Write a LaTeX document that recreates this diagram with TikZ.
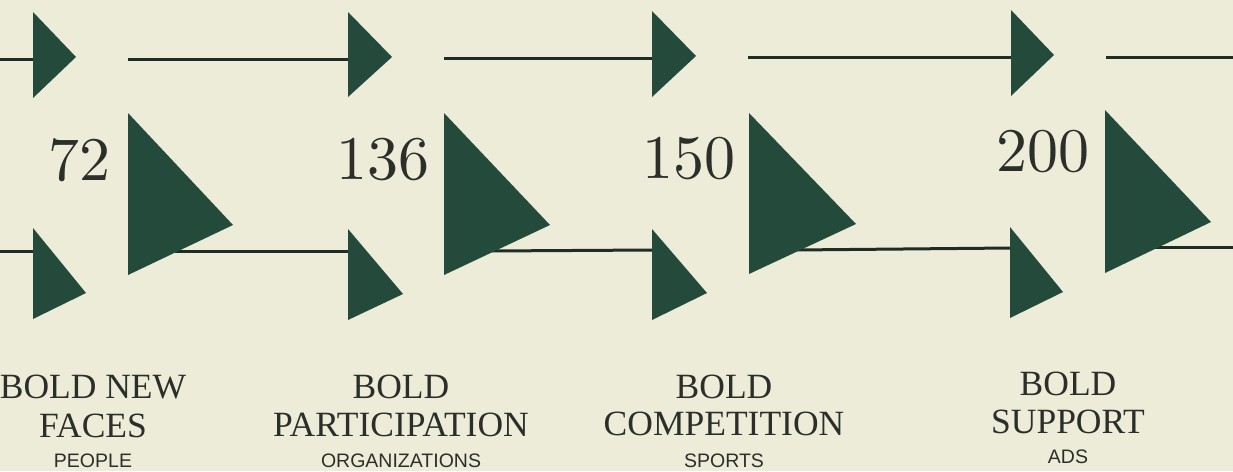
\documentclass[tikz,border=0pt]{standalone}
\usepackage{fontspec}
\newfontfamily\lserif{Liberation Serif}
\newfontfamily\lsans{Liberation Sans}
\newfontfamily\numfont{lmroman10-regular}[Extension=.otf]
\definecolor{bg}{HTML}{EDECD8}
\definecolor{tri}{HTML}{244A3B}
\definecolor{ln}{HTML}{1F2D27}
\definecolor{txt}{HTML}{2C2E2A}
\tikzset{
  tribox/.style={fill=tri, draw=none},
  flowline/.style={draw=ln, line width=3pt},
  numtext/.style={font=\numfont\fontsize{62}{66}\selectfont, text=txt, inner sep=0pt, anchor=base east},
  headtext/.style={font=\lserif\fontsize{35.5}{38}\selectfont, text=txt, inner sep=0pt, anchor=base},
  subtext/.style={font=\lsans\fontsize{19.5}{21}\selectfont, text=txt, inner sep=0pt, anchor=base},
}
\begin{document}
\begin{tikzpicture}[x=1pt,y=-1pt]
\fill[bg] (0,0) rectangle (1233,471);
\useasboundingbox (0,0) rectangle (1233,471);

% coordinates
\coordinate (s0) at (0,59);
\coordinate (b0) at (0,251);
% top small triangle bases (at line height)
\coordinate (ts1) at (34,59);  \coordinate (ts2) at (349,59);
\coordinate (ts3) at (653,58); \coordinate (ts4) at (1012,57);
% big triangle left edges at top-line height
\coordinate (bt1) at (128,59); \coordinate (bt2) at (444,58);
\coordinate (bt3) at (748,57); \coordinate (bt4) at (1106,57);
\coordinate (e0) at (1233,57);
% bottom line
\coordinate (bs1) at (34,251);  \coordinate (bs2) at (349,251);
\coordinate (bs3) at (653,250); \coordinate (bs4) at (1011,248);
\coordinate (bb1) at (175,251); \coordinate (bb2) at (490,251);
\coordinate (bb3) at (795,250); \coordinate (bb4) at (1155,247);
\coordinate (e1) at (1233,247);

% connectors
\draw[flowline] (s0) -- (ts1);
\draw[flowline] (bt1) -- (ts2);
\draw[flowline] (bt2) -- (ts3);
\draw[flowline] (bt3) -- (ts4);
\draw[flowline] (bt4) -- (e0);
\draw[flowline] (b0) -- (bs1);
\draw[flowline] (bb1) -- (bs2);
\draw[flowline] (bb2) -- (bs3);
\draw[flowline] (bb3) -- (bs4);
\draw[flowline] (bb4) -- (e1);

% top small triangles
\fill[tribox] (33,12) -- (33,98) -- (76,57) -- cycle;
\fill[tribox] (348,12) -- (348,97) -- (392,57) -- cycle;
\fill[tribox] (652,11) -- (652,97) -- (696,56) -- cycle;
\fill[tribox] (1011,10) -- (1011,96) -- (1054,55) -- cycle;
% bottom small triangles
\fill[tribox] (33,228) -- (33,319) -- (86,293) -- cycle;
\fill[tribox] (348,229) -- (348,320) -- (403,294) -- cycle;
\fill[tribox] (652,229) -- (652,320) -- (707,293) -- cycle;
\fill[tribox] (1010,227) -- (1010,318) -- (1063,292) -- cycle;
% big triangles
\fill[tribox] (128,113) -- (128,275) -- (233,225) -- cycle;
\fill[tribox] (444,113) -- (444,275) -- (550,225) -- cycle;
\fill[tribox] (749,113) -- (749,274) -- (856,224) -- cycle;
\fill[tribox] (1105,110) -- (1105,273) -- (1211,222) -- cycle;

% numbers
\node[numtext] (n1) at (111,180) {72};
\node[numtext] (n2) at (430,179) {136};
\node[numtext] (n3) at (736,178) {150};
\node[numtext] (n4) at (1090,171) {200};

% labels
\node[headtext] (h1a) at (93,398) {BOLD NEW};
\node[headtext] (h1b) at (93,437) {FACES};
\node[subtext]  (h1c) at (93,467) {PEOPLE};
\node[headtext] (h2a) at (401,398) {BOLD};
\node[headtext] (h2b) at (401,436) {PARTICIPATION};
\node[subtext]  (h2c) at (401,467) {ORGANIZATIONS};
\node[headtext] (h3a) at (724,398) {BOLD};
\node[headtext] (h3b) at (724,435) {COMPETITION};
\node[subtext]  (h3c) at (724,467) {SPORTS};
\node[headtext] (h4a) at (1068,395) {BOLD};
\node[headtext] (h4b) at (1068,433) {SUPPORT};
\node[subtext]  (h4c) at (1068,463) {ADS};
\end{tikzpicture}
\end{document}
